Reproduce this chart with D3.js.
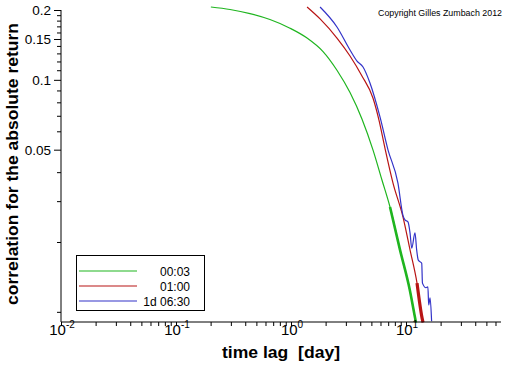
<!DOCTYPE html>
<html><head><meta charset="utf-8">
<script src="https://cdn.jsdelivr.net/npm/d3@7"></script>
<style>body{margin:0;background:#fff}svg{display:block}</style>
</head><body>
<script>
// ---- data ----
const seriesNames = ["00:03", "01:00", "1d 06:30"];
const lag003 = [0.201,0.295,0.44,0.656,0.98,1.38,1.90,2.51,3.26,4.14,5.16,6.18,7.26,8.87,10.8,12.0,12.2];
const val003 = [0.206,0.201,0.193,0.182,0.167,0.1514,0.1324,0.110,0.0881,0.0678,0.0499,0.0370,0.0283,0.0185,0.0124,0.0094,0.0090];
const lag100 = [1.38,1.79,2.51,3.26,4.14,5.16,5.82,6.56,7.71,9.42,10.84,12.47,13.8,14.06];
const val100 = [0.206,0.183,0.1514,0.1267,0.1039,0.0835,0.0671,0.0508,0.0359,0.0256,0.0185,0.0133,0.0094,0.0090];
const lag630 = [1.79,2.51,3.26,3.75,4.23,4.86,5.94,6.97,8.51,9.42,9.80,10.4,10.84,11.22,11.97,12.38,12.79,13.7,13.9,14.93,15.5,15.75,16.2,16.7];
const val630 = [0.206,0.169,0.1345,0.1205,0.1136,0.0969,0.0692,0.0499,0.0359,0.026,0.0249,0.0244,0.0219,0.0188,0.0219,0.0185,0.0167,0.0162,0.0133,0.0127,0.0128,0.0107,0.0115,0.0091];
const xMajorTicks = [0.01, 0.1, 1, 10];
const xTickExp = ["-2", "-1", "0", "1"];
const yLabelTicks = [0.2, 0.15, 0.1, 0.05];
const yLabelText = ["0.2", "0.15", "0.1", "0.05"];
const yMinorTicks = [0.19,0.18,0.17,0.16,0.14,0.13,0.12,0.11,0.09,0.08,0.07,0.06,0.04,0.03,0.02,0.01];
const xDomain = [0.01, 67];
const yDomain = [0.00904, 0.2];

// ---- styles ----
const colors = ["#1fb51f", "#b81414", "#3232c8"];
const tailBelow = [0.03, 0.018, 0];   // values under which the noisy trace looks thick
const tailWidth = [2.6, 3.2, 1.2];

const W = 512, H = 366;
const svg = d3.select("body").append("svg").attr("width", W).attr("height", H);
const x = d3.scaleLog().domain(xDomain).range([61, 501]);
const y = d3.scaleLog().domain(yDomain).range([322, 10]);

const font = "'Liberation Sans', Arial, sans-serif";

// curves
const series = [
  {lag: lag003, val: val003},
  {lag: lag100, val: val100},
  {lag: lag630, val: val630}
];
const line = d3.line().x(d => x(d[0])).y(d => y(d[1])).curve(d3.curveMonotoneX);
series.forEach((s, i) => {
  const pts = s.lag.map((l, k) => [l, s.val[k]]);
  svg.append("path").attr("d", line(pts)).attr("fill", "none")
    .attr("stroke", colors[i]).attr("stroke-width", 1.2).attr("stroke-linejoin", "round");
  const tail = pts.filter(p => p[1] < tailBelow[i]);
  if (tail.length > 1) {
    svg.append("path").attr("d", line(tail)).attr("fill", "none")
      .attr("stroke", colors[i]).attr("stroke-width", tailWidth[i]).attr("stroke-linejoin", "round");
  }
});

// x axis
const xMinor = [];
for (let e = -2; e <= 1; e++) for (let m = 2; m <= 9; m++) {
  const v = m * Math.pow(10, e); if (v <= xDomain[1]) xMinor.push(v);
}
const xAxisG = svg.append("g").attr("transform", "translate(0,322)");
xAxisG.call(d3.axisBottom(x).tickValues(xMinor.concat(xMajorTicks)).tickSize(4).tickFormat(""));
xAxisG.select(".domain").attr("d", `M${x(xDomain[0])},0H${x(xDomain[1])}`);
xAxisG.selectAll("line,path").attr("stroke", "#000");
xMajorTicks.forEach((t, i) => {
  const tx = svg.append("text").attr("x", x(t) + 1).attr("y", 335)
    .attr("text-anchor", "middle").attr("font-family", font).attr("font-size", 15).attr("fill", "#000");
  tx.append("tspan").text("10");
  tx.append("tspan").attr("dy", -7).attr("font-size", 10).text(xTickExp[i]);
});

// y axis
const yAxisG = svg.append("g").attr("transform", "translate(61,0)");
yAxisG.call(d3.axisLeft(y).tickValues(yLabelTicks).tickSize(7).tickFormat((d, i) => yLabelText[i]));
yAxisG.select(".domain").attr("d", `M0,${y(yDomain[1])}V${y(yDomain[0])}`);
yAxisG.selectAll("line,path").attr("stroke", "#000");
yAxisG.selectAll("text").attr("font-family", font).attr("font-size", 13.5).attr("fill", "#000").attr("x", -10);
const yMinorG = svg.append("g").attr("transform", "translate(61,0)");
yMinorG.call(d3.axisLeft(y).tickValues(yMinorTicks).tickSize(4).tickFormat(""));
yMinorG.select(".domain").remove();
yMinorG.selectAll("line").attr("stroke", "#000");

// titles
svg.append("text").attr("x", 281).attr("y", 358).attr("text-anchor", "middle")
  .attr("font-family", font).attr("font-size", 17).attr("font-weight", "bold")
  .attr("textLength", 118).attr("lengthAdjust", "spacingAndGlyphs")
  .attr("xml:space", "preserve").style("white-space", "pre").text("time lag  [day]");
svg.append("text").attr("transform", "translate(18,164) rotate(-90)").attr("text-anchor", "middle")
  .attr("font-family", font).attr("font-size", 17).attr("font-weight", "bold")
  .attr("textLength", 282).attr("lengthAdjust", "spacingAndGlyphs")
  .text("correlation for the absolute return");
svg.append("text").attr("x", 378).attr("y", 16).attr("font-family", font).attr("font-size", 8.5)
  .attr("textLength", 124).attr("lengthAdjust", "spacingAndGlyphs").text("Copyright Gilles Zumbach 2012");

// legend
const lg = svg.append("g");
lg.append("rect").attr("x", 76.5).attr("y", 255.5).attr("width", 128).attr("height", 55)
  .attr("fill", "#fff").attr("stroke", "#000");
seriesNames.forEach((n, i) => {
  const ly = 271 + i * 15;
  lg.append("line").attr("x1", 79).attr("x2", 137).attr("y1", ly).attr("y2", ly)
    .attr("stroke", colors[i]).attr("stroke-width", 1.2);
  lg.append("text").attr("x", 190).attr("y", ly + 4.5).attr("text-anchor", "end")
    .attr("font-family", font).attr("font-size", 12).text(n);
});
</script>
</body></html>
